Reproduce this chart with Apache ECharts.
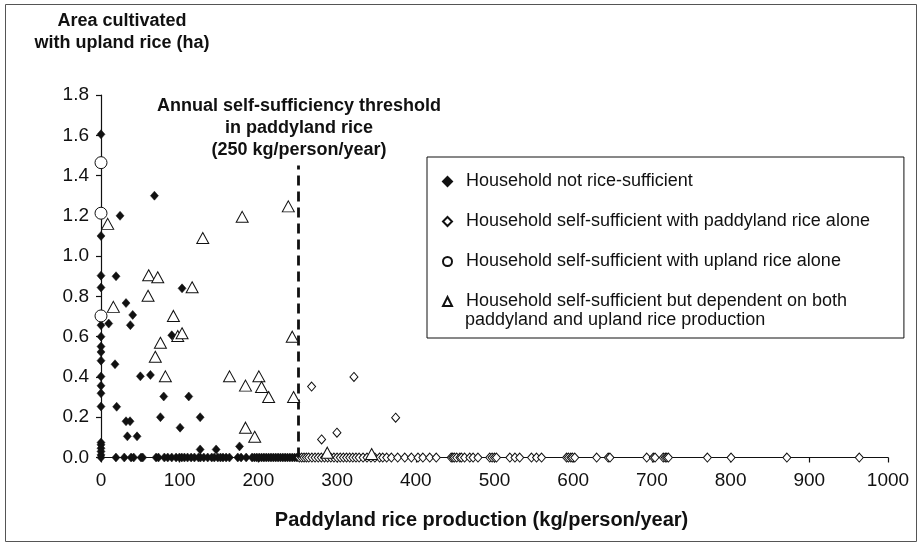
<!DOCTYPE html>
<html>
<head>
<meta charset="utf-8">
<script src="https://cdn.jsdelivr.net/npm/echarts@6/dist/echarts.min.js"></script>
<style>
  html, body { margin: 0; padding: 0; background: #fff; }
  #chart { width: 923px; height: 547px; }
</style>
</head>
<body>
<div id="chart"></div>
<script>
// ---------------- data ----------------
const seriesNames = [
  'Household not rice-sufficient',
  'Household self-sufficient with paddyland rice alone',
  'Household self-sufficient with upland rice alone',
  'Household self-sufficient but dependent on both'
];
const legendSecondLine = 'paddyland and upland rice production';

// Household not rice-sufficient (filled diamonds)
const notSufficientPoints = [
  [67.9,1.30],[24.2,1.20],[19.1,0.90],[103,0.84],[31.8,0.767],[40.3,0.708],
  [9.8,0.665],[37.3,0.657],[89.9,0.607],[17.8,0.463],[50,0.403],[62.8,0.41],
  [79.7,0.303],[111.5,0.303],[19.9,0.252],[31.8,0.18],[36.9,0.18],[75.5,0.20],
  [100.5,0.148],[126,0.20],[33.5,0.105],[45.8,0.105],[126,0.04],[146.3,0.04],[176,0.055]
];
// not sufficient, no paddyland production (on the vertical axis): upland area
const notSufficientZeroPaddy = [1.605,1.10,0.903,0.844,0.657,0.60,0.551,0.524,0.481,
  0.402,0.356,0.319,0.253,0.074,0.063,0.046,0.03,0.013,0];
// not sufficient, no upland rice (on the horizontal axis): paddy production
const notSufficientZeroUpland = [19,29.6,38.2,41.5,50.9,53,70,73,80.5,84.8,89.9,95.4,
  99.6,102.6,106,110,114.5,118.7,123.8,126.3,130.6,135.6,140.7,144,148.4,151.8,155,159,
  163.2,173.8,178,184.5,192,195,198,201,204,207,210,213,216,219,222,225,228,231,234,
  237,240,243,246,249];

// Self-sufficient with paddyland rice alone (open diamonds)
const paddyAlonePoints = [[267.6,0.352],[321.4,0.40],[374.4,0.198],[280.3,0.09],[299.8,0.123]];
const paddyAloneZeroUpland = [252,255,258,261,264,268,272,276,280,284,288,292,296,300,
  304,308,312,316,320,324,328,333,338,343,348,354,358,363,369,377,386,394.4,402.8,409,
  417.7,426,445,447,449,452,456,458,462,468.6,472.8,479,494,497,500,502.5,519.5,526,532,
  547,553.4,559.8,591.6,594,597,599,602,629.8,644.5,646.7,693.4,701.8,704,714.5,717,719,
  721,770.5,800.6,871.5,963.5];

// Self-sufficient with upland rice alone (open circles, no paddy production)
const uplandAloneArea = [1.464,1.213,0.703];

// Self-sufficient, dependent on both (open triangles)
const bothPoints = [
  [8.5,1.16],[179.4,1.195],[129.3,1.09],[60.6,0.905],[72.1,0.895],[115.8,0.845],
  [238,1.247],[59.8,0.803],[15.7,0.748],[92,0.703],[97.5,0.603],[103,0.617],
  [75.5,0.57],[69,0.50],[81.8,0.403],[163.3,0.403],[183.6,0.357],[200.6,0.403],
  [204,0.35],[213,0.30],[244.7,0.30],[243,0.60],[183.6,0.148],[195.3,0.103],
  [287.5,0.024],[343.9,0.017]
];

const thresholdX = 250;        // kg/person/year
const thresholdLineTop = 1.45; // upper end of dashed line (ha scale)

const xTicks = { min: 0, max: 1000, interval: 100 };
const yTicks = { min: 0, max: 1.8, interval: 0.2 };

// ---------------- build ----------------
const notSufficientData = notSufficientPoints
  .concat(notSufficientZeroPaddy.map(v => [0, v]))
  .concat(notSufficientZeroUpland.map(v => [v, 0]));
const paddyAloneData = paddyAlonePoints.concat(paddyAloneZeroUpland.map(v => [v, 0]));
const uplandAloneData = uplandAloneArea.map(v => [0, v]);

const FONT = 'Liberation Sans, Arial, sans-serif';
const INK = '#111';

const chart = echarts.init(document.getElementById('chart'), null, { renderer: 'canvas' });

chart.setOption({
  backgroundColor: '#fff',
  animation: false,
  grid: { left: 101, right: 35, top: 95, bottom: 89.5, containLabel: false },
  xAxis: {
    type: 'value',
    min: xTicks.min, max: xTicks.max, interval: xTicks.interval,
    name: 'Paddyland rice production (kg/person/year)',
    nameLocation: 'middle',
    nameGap: 53,
    nameTextStyle: { fontFamily: FONT, fontSize: 20, fontWeight: 'bold', color: INK, padding: [0, 26, 0, 0] },
    axisLine: { show: true, onZero: false, lineStyle: { color: INK, width: 1.2 } },
    axisTick: { show: true, inside: false, length: 5, lineStyle: { color: INK, width: 1.2 } },
    axisLabel: { fontFamily: FONT, fontSize: 19, color: INK, margin: 14,
      formatter: v => String(v) },
    splitLine: { show: false }
  },
  yAxis: {
    type: 'value',
    min: yTicks.min, max: yTicks.max, interval: yTicks.interval,
    axisLine: { show: true, onZero: false, lineStyle: { color: INK, width: 1.2 } },
    axisTick: { show: true, inside: false, length: 5, lineStyle: { color: INK, width: 1.2 } },
    axisLabel: { fontFamily: FONT, fontSize: 19, color: INK, margin: 12,
      formatter: v => v.toFixed(1) },
    splitLine: { show: false }
  },
  legend: {
    orient: 'vertical',
    left: 427,
    top: 157,
    padding: [15, 34, 27, 15],
    itemWidth: 9,
    itemHeight: 9,
    itemGap: 21,
    borderColor: INK,
    borderWidth: 1,
    backgroundColor: '#fff',
    textStyle: { fontFamily: FONT, fontSize: 18, color: INK, lineHeight: 19, padding: [0, 0, 0, 9] },
    data: seriesNames
  },
  graphic: [
    {
      type: 'rect', silent: true, z: -10,
      shape: { x: 5.5, y: 4.5, width: 911, height: 537 },
      style: { fill: 'none', stroke: '#555', lineWidth: 1 }
    },
    {
      type: 'text', silent: true, z: 100,
      style: {
        text: 'Area cultivated\nwith upland rice (ha)',
        x: 122, y: 10, textAlign: 'center', textVerticalAlign: 'top',
        font: 'bold 18px ' + FONT, lineHeight: 22, fill: INK
      }
    },
    {
      type: 'text', silent: true, z: 100,
      style: {
        text: 'Annual self-sufficiency threshold\nin paddyland rice\n(250 kg/person/year)',
        x: 299, y: 95, textAlign: 'center', textVerticalAlign: 'top',
        font: 'bold 18px ' + FONT, lineHeight: 22, fill: INK
      }
    },
    {
      type: 'text', silent: true, z: 100,
      style: {
        text: legendSecondLine,
        x: 465, y: 311, textVerticalAlign: 'top',
        font: '18px ' + FONT, fill: INK
      }
    }
  ],
  series: [
    {
      name: seriesNames[0], type: 'scatter', symbol: 'diamond', symbolSize: [8, 9],
      itemStyle: { color: INK, borderColor: INK, borderWidth: 0.5, opacity: 1 },
      data: notSufficientData, z: 3,
      markLine: {
        silent: true, symbol: ['none', 'none'], label: { show: false },
        lineStyle: { color: INK, width: 2.8, type: [10, 6], opacity: 1 },
        data: [[{ coord: [thresholdX, 0] }, { coord: [thresholdX, thresholdLineTop] }]]
      }
    },
    {
      name: seriesNames[1], type: 'scatter', symbol: 'diamond', symbolSize: [8, 9],
      itemStyle: { color: '#fff', borderColor: INK, borderWidth: 1, opacity: 1 },
      data: paddyAloneData, z: 4
    },
    {
      name: seriesNames[2], type: 'scatter', symbol: 'circle', symbolSize: 12,
      itemStyle: { color: '#fff', borderColor: INK, borderWidth: 1, opacity: 1 },
      data: uplandAloneData, z: 5
    },
    {
      name: seriesNames[3], type: 'scatter', symbol: 'triangle', symbolSize: [12, 11],
      itemStyle: { color: '#fff', borderColor: INK, borderWidth: 1, opacity: 1 },
      data: bothPoints, z: 5
    }
  ]
});
</script>
</body>
</html>
